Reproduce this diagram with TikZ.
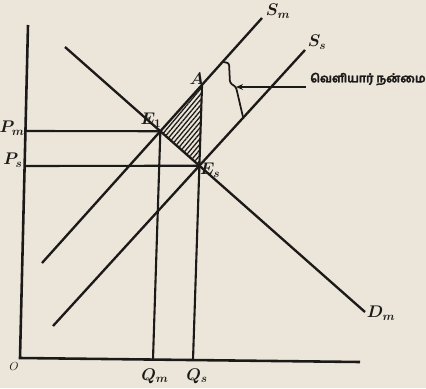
\documentclass[tikz,border=0pt]{standalone}
\usepackage{fontspec}
\usepackage{tikz}
\usetikzlibrary{arrows.meta, patterns.meta, positioning, calc}
\newfontfamily\tamilfont[Script=Tamil, FakeBold=2.5]{Hind Madurai}
\definecolor{paper}{HTML}{ECE6DA}
\definecolor{ink}{HTML}{1C1A18}

\begin{document}
\begin{tikzpicture}[
    x=0.03cm, y=-0.03cm,
    axis/.style={draw=ink, line width=2.2pt},
    curve/.style={draw=ink, line width=2pt},
    guide/.style={draw=ink, line width=1.8pt},
    brace/.style={draw=ink, line width=1.5pt, rounded corners=2pt},
    lbl/.style={text=ink, font=\Large\boldmath},
    arrow/.style={{Stealth[length=6pt, width=5pt]}-, draw=ink, line width=1.4pt},
    hatch/.style={pattern={Lines[angle=50, distance=3pt, line width=1.1pt]}, pattern color=ink}
]

\path[use as bounding box, fill=paper] (0,0) rectangle (426,388);

% Points
\coordinate (O) at (20,358);
\coordinate (ytop) at (28,25);
\coordinate (xend) at (360,362);
\coordinate (dm0) at (65,47);
\coordinate (dm1) at (365,312);
\coordinate (sm0) at (42,263);
\coordinate (sm1) at (262,18);
\coordinate (ss0) at (53,326);
\coordinate (ss1) at (305,50);
\coordinate (qm) at (153,359);
\coordinate (qs) at (193,360);
\coordinate (E1) at (intersection of dm0--dm1 and sm0--sm1);
\coordinate (Es) at (intersection of dm0--dm1 and ss0--ss1);
\coordinate (A) at (intersection of sm0--sm1 and Es--qs);
\coordinate (pm) at (25,131);
\coordinate (ps) at (24,166);
\coordinate (bsm) at (223,62);
\coordinate (bmid) at (236,87);
\coordinate (bss) at (243,117);

% Shaded area
\fill[hatch] (E1) -- (A) -- (Es) -- cycle;

% Lines
\draw[axis] (ytop) -- (O) -- (xend);
\draw[guide] (pm) -- (E1);
\draw[guide] (ps) -- (Es);
\draw[guide] (E1) -- (qm);
\draw[guide] (A) -- (qs);
\draw[curve] (dm0) -- (dm1);
\draw[curve] (sm0) -- (sm1);
\draw[curve] (ss0) -- (ss1);
\draw[brace] (bsm) -- (229,63) -- (230,83) -- (bmid) -- (bss);

% Labels
\node[lbl] (pmlab) at (12,128) {$P_m$};
\node[lbl] (pslab) at (13,160) {$P_s$};
\node[lbl] (qmlab) at (155,376) {$Q_m$};
\node[lbl] (qslab) at (197,376) {$Q_s$};
\node[lbl, font=\normalsize] (olab) at (14,366) {$O$};
\node[lbl] (e1lab) at (151,120) {$E_1$};
\node[lbl] (eslab) at (210,170) {$E_s$};
\node[lbl] (alab) at (197,79) {$A$};
\node[lbl] (smlab) at (278,11) {$S_m$};
\node[lbl] (sslab) at (317,42) {$S_s$};
\node[lbl] (dmlab) at (381,313) {$D_m$};
\node[text=ink] (gain) at (368,79) {\tamilfont\bfseries வெளியார் நன்மை};

% Arrows
\draw[arrow] (bmid) -- (bmid -| gain.west);

\end{tikzpicture}
\end{document}
